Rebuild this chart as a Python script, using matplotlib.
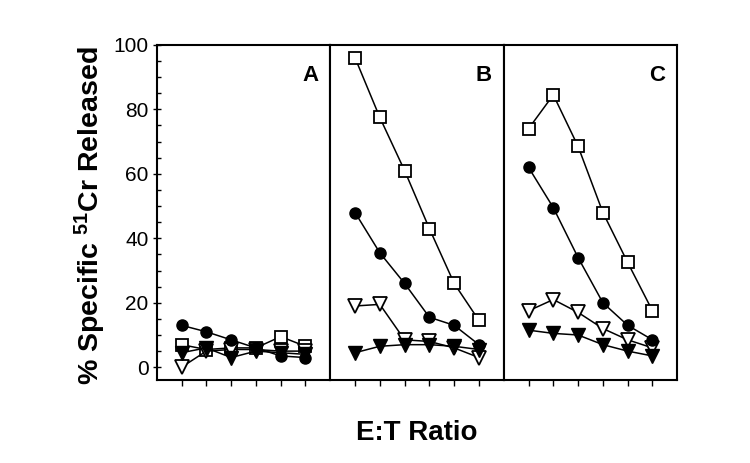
import matplotlib.pyplot as plt
from matplotlib.ticker import MultipleLocator

plt.rcParams['font.family'] = ['Liberation Sans', 'DejaVu Sans']
plt.rcParams['mathtext.fontset'] = 'custom'
plt.rcParams['mathtext.rm'] = 'Liberation Sans'
plt.rcParams['mathtext.bf'] = 'Liberation Sans:bold'

# =========================
# DATA
# =========================

ratios = [1, 2, 3, 4, 5, 6]
panels = ["A", "B", "C"]

square_A = [7, 5.5, 6, 6, 9.5, 6.5]
circle_A = [13, 11, 8.5, 6, 3.5, 3]
open_tri_A = [0, 5, 5.5, 5.5, 5, 5]
fill_tri_A = [4.5, 6, 3, 5, 4.5, 4]

square_B = [96, 77.5, 61, 43, 26, 14.5]
circle_B = [48, 35.5, 26, 15.5, 13, 7]
open_tri_B = [19, 19.5, 8.5, 8, 6, 3]
fill_tri_B = [4.5, 6.5, 7, 7, 6.5, 5.5]

square_C = [74, 84.5, 68.5, 48, 32.5, 17.5]
circle_C = [62, 49.5, 34, 20, 13, 8.5]
open_tri_C = [17.5, 21, 17, 12, 8.5, 6]
fill_tri_C = [11.5, 10.5, 10, 7, 5, 3.5]

data = {
    "A": (square_A, circle_A, open_tri_A, fill_tri_A),
    "B": (square_B, circle_B, open_tri_B, fill_tri_B),
    "C": (square_C, circle_C, open_tri_C, fill_tri_C),
}

# =========================
# PLOT
# =========================

fig, axes = plt.subplots(1, 3, figsize=(7.5, 4.63), dpi=100, sharey=True)
fig.subplots_adjust(left=0.209, right=0.903, top=0.903, bottom=0.179, wspace=0)

lw = 1.1
for ax, name in zip(axes, panels):
    sq, ci, ot, ft = data[name]
    ax.plot(ratios, sq, color="black", lw=lw, marker="s", ms=9,
            mfc="white", mec="black", mew=1.3, zorder=3)
    ax.plot(ratios, ot, color="black", lw=lw, marker="v", ms=9.5,
            mfc="white", mec="black", mew=1.3, zorder=4)
    ax.plot(ratios, ft, color="black", lw=lw, marker="v", ms=9.5,
            mfc="black", mec="black", zorder=5)
    ax.plot(ratios, ci, color="black", lw=lw, marker="o", ms=8,
            mfc="black", mec="black", zorder=6)

    ax.set_xlim(0, 7)
    ax.set_ylim(-4, 100)
    ax.set_xticks(ratios)
    ax.set_xticklabels([])
    ax.tick_params(axis="x", direction="out", length=4, width=1, top=False)
    for s in ax.spines.values():
        s.set_linewidth(1.5)
    ax.text(0.93, 0.94, name, transform=ax.transAxes, ha="right", va="top",
            fontsize=16, fontweight="bold")

    if name == "A":
        ax.yaxis.set_major_locator(MultipleLocator(20))
        ax.yaxis.set_minor_locator(MultipleLocator(5))
        ax.tick_params(axis="y", which="major", direction="inout", length=6,
                       width=1, labelsize=15, pad=3)
        ax.tick_params(axis="y", which="minor", direction="in", length=3, width=1)
    else:
        ax.tick_params(axis="y", which="both", length=0, left=False)

fig.text(0.12, 0.535, "% Specific $\\mathbf{^{51}}$Cr Released", rotation=90,
         ha="center", va="center", fontsize=20.5, fontweight="bold")
fig.text(0.556, 0.065, "E:T Ratio", ha="center", va="center",
         fontsize=20, fontweight="bold")

plt.savefig("out.png", dpi=100)
